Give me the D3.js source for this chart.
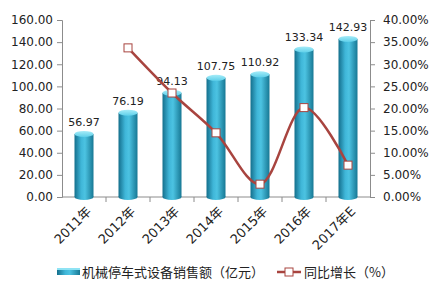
<!DOCTYPE html>
<html>
<head>
<meta charset="utf-8">
<script src="https://cdn.jsdelivr.net/npm/d3@7"></script>
<style>
  body { margin: 0; background: #fff; }
  svg { display: block; font-family: "DejaVu Sans", sans-serif; }
</style>
</head>
<body>
<svg id="chart" width="436" height="287"></svg>
<script>
// chart data
const years = ['2011年', '2012年', '2013年', '2014年', '2015年', '2016年', '2017年E'];
const sales = [56.97, 76.19, 94.13, 107.75, 110.92, 133.34, 142.93];
const growthYears = ['2012年', '2013年', '2014年', '2015年', '2016年', '2017年E'];
const growth = [33.7, 23.5, 14.5, 2.9, 20.2, 7.2];
const leftTicks = [0, 20, 40, 60, 80, 100, 120, 140, 160];
const rightTicks = [0, 5, 10, 15, 20, 25, 30, 35, 40];

const svg = d3.select('#chart');
const plotLeft = 62, plotRight = 370, plotTop = 20, plotBottom = 197;

const x = d3.scaleBand().domain(years).range([plotLeft, plotRight]);
const yL = d3.scaleLinear().domain([0, 160]).range([plotBottom, plotTop]);
const yR = d3.scaleLinear().domain([0, 40]).range([plotBottom, plotTop]);

// gradients for the cylinder bars
const defs = svg.append('defs');
const body = defs.append('linearGradient').attr('id', 'barBody');
body.append('stop').attr('offset', '0%').attr('stop-color', '#146f8c');
body.append('stop').attr('offset', '35%').attr('stop-color', '#3fb6d8');
body.append('stop').attr('offset', '55%').attr('stop-color', '#4cc3e2');
body.append('stop').attr('offset', '100%').attr('stop-color', '#177894');
const cap = defs.append('linearGradient').attr('id', 'barCap').attr('x1', 0).attr('y1', 0).attr('x2', 0).attr('y2', 1);
cap.append('stop').attr('offset', '0%').attr('stop-color', '#a6ecf8');
cap.append('stop').attr('offset', '100%').attr('stop-color', '#5fd0ea');

// axes
const axisColor = '#8c8c8c';
const gL = svg.append('g').attr('transform', `translate(${plotLeft},0)`)
  .call(d3.axisLeft(yL).tickValues(leftTicks).tickFormat(d3.format('.2f')).tickSizeOuter(0).tickSize(5).tickPadding(4));
const gR = svg.append('g').attr('transform', `translate(${plotRight},0)`)
  .call(d3.axisRight(yR).tickValues(rightTicks).tickFormat(d => d3.format('.2f')(d) + '%').tickSizeOuter(0).tickSize(5).tickPadding(8));
[gL, gR].forEach(g => {
  g.select('.domain').attr('stroke', axisColor);
  g.selectAll('.tick line').attr('stroke', axisColor);
  g.selectAll('.tick text').attr('fill', '#222').style('font-size', '12px').style('font-family', '"DejaVu Sans", sans-serif');
});

// x axis
svg.append('line').attr('x1', plotLeft).attr('x2', plotRight).attr('y1', plotBottom).attr('y2', plotBottom).attr('stroke', axisColor);
svg.selectAll('.xtick').data(years.slice(1)).enter().append('line')
  .attr('x1', d => x(d)).attr('x2', d => x(d)).attr('y1', plotBottom).attr('y2', plotBottom + 5).attr('stroke', axisColor);
svg.selectAll('.xlab').data(years).enter().append('text')
  .attr('transform', d => `translate(${x(d) + x.bandwidth() / 2 + 5},${plotBottom + 12}) rotate(-45)`)
  .attr('text-anchor', 'end')
  .attr('dy', '0.35em')
  .style('font-size', '13px')
  .style('font-family', '"DejaVu Sans", "Noto Sans CJK SC", sans-serif')
  .attr('fill', '#222')
  .text(d => d);

// bars
const bw = 19, ry = 3;
const bars = svg.selectAll('.bar').data(sales).enter().append('g');
bars.append('rect')
  .attr('x', (d, i) => x(years[i]) + x.bandwidth() / 2 - bw / 2)
  .attr('y', d => yL(d))
  .attr('width', bw)
  .attr('height', d => plotBottom - yL(d))
  .attr('fill', 'url(#barBody)');
bars.append('ellipse')
  .attr('cx', (d, i) => x(years[i]) + x.bandwidth() / 2)
  .attr('cy', plotBottom)
  .attr('rx', bw / 2).attr('ry', ry)
  .attr('fill', 'url(#barBody)');
bars.append('ellipse')
  .attr('cx', (d, i) => x(years[i]) + x.bandwidth() / 2)
  .attr('cy', d => yL(d))
  .attr('rx', bw / 2).attr('ry', ry)
  .attr('fill', 'url(#barCap)');

// bar value labels
svg.selectAll('.val').data(sales).enter().append('text')
  .attr('x', (d, i) => x(years[i]) + x.bandwidth() / 2)
  .attr('y', d => yL(d) - 8)
  .attr('text-anchor', 'middle')
  .style('font-size', '11px')
  .attr('fill', '#222')
  .text(d => d.toFixed(2));

// growth line
const lineColor = '#a8443f';
const pts = growth.map((d, i) => [x(growthYears[i]) + x.bandwidth() / 2, yR(d)]);
svg.append('path')
  .attr('d', d3.line().curve(d3.curveCatmullRom.alpha(0.5))(pts))
  .attr('fill', 'none')
  .attr('stroke', lineColor)
  .attr('stroke-width', 2.5);
svg.selectAll('.mk').data(pts).enter().append('rect')
  .attr('x', d => d[0] - 4).attr('y', d => d[1] - 4)
  .attr('width', 8).attr('height', 8)
  .attr('fill', '#fff')
  .attr('stroke', lineColor)
  .attr('stroke-width', 1);

// legend
const lg = svg.append('g').style('font-family', '"Noto Sans CJK SC", sans-serif').style('font-size', '13px');
lg.append('rect').attr('x', 57).attr('y', 268).attr('width', 23).attr('height', 7).attr('fill', 'url(#barBody)');
lg.append('rect').attr('x', 57).attr('y', 268).attr('width', 23).attr('height', 2).attr('fill', '#8fe3f4');
lg.append('text').attr('x', 82).attr('y', 277).attr('fill', '#222').text('机械停车式设备销售额（亿元）');
lg.append('line').attr('x1', 277).attr('x2', 301).attr('y1', 272).attr('y2', 272).attr('stroke', lineColor).attr('stroke-width', 2.5);
lg.append('rect').attr('x', 285).attr('y', 268).attr('width', 8).attr('height', 8).attr('fill', '#fff').attr('stroke', lineColor);
lg.append('text').attr('x', 304).attr('y', 277).attr('fill', '#222').text('同比增长（%）');
</script>
</body>
</html>
